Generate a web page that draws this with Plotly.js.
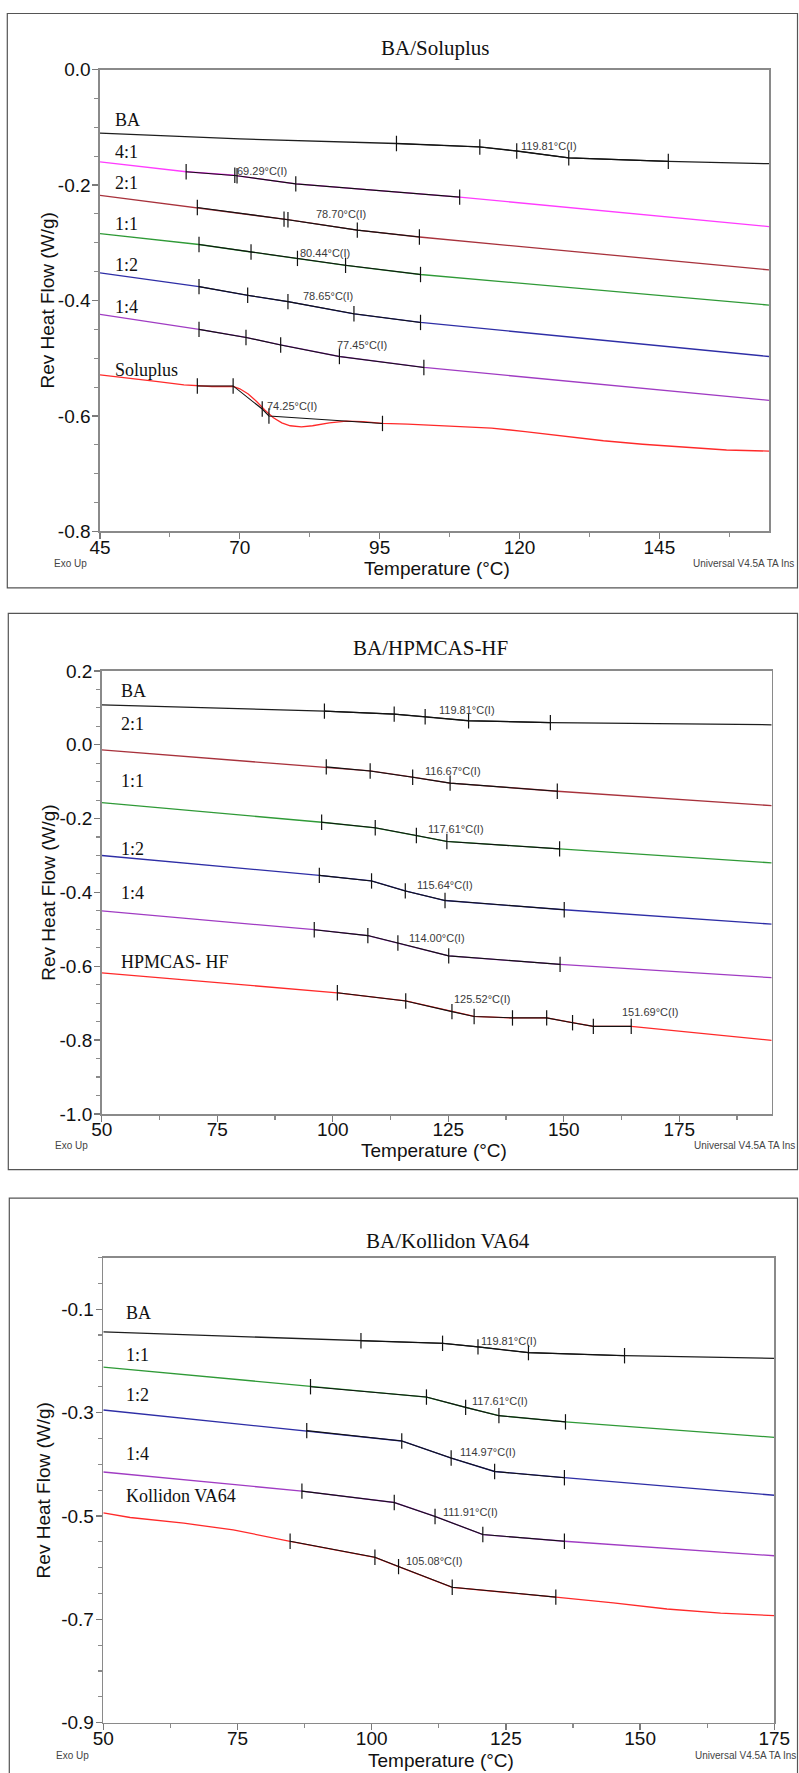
<!DOCTYPE html>
<html><head><meta charset="utf-8">
<script src="https://cdn.plot.ly/plotly-3.0.1.min.js"></script>
<style>html,body{margin:0;padding:0;background:#fff}#chart{width:799px;height:1773px}</style>
</head><body><div id="chart"></div>
<script>
// ================= DATA =================
// ---- Panel 1: BA/Soluplus ----
const p1Title = 'BA/Soluplus';
const p1XRange = [45, 164.6];
const p1YRange = [-0.8, 0.0];
const p1XTicks = [45, 70, 95, 120, 145];
const p1XTickText = ['45', '70', '95', '120', '145'];
const p1YTicks = [0.0, -0.2, -0.4, -0.6, -0.8];
const p1YTickText = ['0.0', '-0.2', '-0.4', '-0.6', '-0.8'];
const p1Names = ['BA', '4:1', '2:1', '1:1', '1:2', '1:4', 'Soluplus'];
const p1NameX = [47.3, 47.3, 47.3, 47.3, 47.3, 47.3, 47.3];
const p1NameY = [-0.088, -0.142, -0.197, -0.267, -0.339, -0.411, -0.520];

const p1_BA_T = [45, 70, 98, 112.9, 119.5, 128.8, 146.6, 164.6];
const p1_BA_V = [-0.110, -0.120, -0.128, -0.134, -0.141, -0.153, -0.159, -0.163];
const p1_BA_mT = [98, 112.9, 119.5, 128.8, 146.6];
const p1_BA_mV = [-0.128, -0.134, -0.141, -0.153, -0.159];

const p1_41_T = [45, 60.4, 69.1, 69.5, 80.0, 109.3, 164.6];
const p1_41_V = [-0.160, -0.177, -0.183, -0.184, -0.198, -0.221, -0.272];
const p1_41_mT = [60.4, 69.1, 69.5, 80.0, 109.3];
const p1_41_mV = [-0.177, -0.183, -0.184, -0.198, -0.221];

const p1_21_T = [45, 62.4, 77.9, 78.6, 91.0, 102.1, 164.6];
const p1_21_V = [-0.218, -0.239, -0.259, -0.260, -0.278, -0.290, -0.347];
const p1_21_mT = [62.4, 77.9, 78.6, 91.0, 102.1];
const p1_21_mV = [-0.239, -0.259, -0.260, -0.278, -0.290];

const p1_11_T = [45, 62.7, 72.0, 80.3, 88.9, 102.3, 164.6];
const p1_11_V = [-0.284, -0.303, -0.316, -0.327, -0.339, -0.355, -0.408];
const p1_11_mT = [62.7, 72.0, 80.3, 88.9, 102.3];
const p1_11_mV = [-0.303, -0.316, -0.327, -0.339, -0.355];

const p1_12_T = [45, 62.7, 71.4, 78.6, 90.4, 102.3, 164.6];
const p1_12_V = [-0.352, -0.376, -0.391, -0.402, -0.423, -0.438, -0.497];
const p1_12_mT = [62.7, 71.4, 78.6, 90.4, 102.3];
const p1_12_mV = [-0.376, -0.391, -0.402, -0.423, -0.438];

const p1_14_T = [45, 62.7, 71.1, 77.3, 87.8, 102.9, 164.6];
const p1_14_V = [-0.424, -0.450, -0.464, -0.477, -0.497, -0.516, -0.573];
const p1_14_mT = [62.7, 71.1, 77.3, 87.8, 102.9];
const p1_14_mV = [-0.450, -0.464, -0.477, -0.497, -0.516];

const p1_P_T = [45, 50, 55, 60, 62.4, 65, 68.8, 70, 71.5, 73, 74.5, 76, 77.5, 79, 81, 83, 86, 89, 92, 95.5, 100, 107.5, 115, 121, 128.3, 135, 142, 150.4, 157, 164.6];
const p1_P_V = [-0.529, -0.534, -0.540, -0.546, -0.548, -0.549, -0.549, -0.553, -0.562, -0.575, -0.590, -0.603, -0.612, -0.617, -0.619, -0.617, -0.612, -0.609, -0.610, -0.613, -0.614, -0.617, -0.621, -0.627, -0.635, -0.643, -0.649, -0.655, -0.659, -0.661];
const p1_P_mT = [62.4, 68.8, 74.0, 75.2, 95.5];
const p1_P_mV = [-0.548, -0.548, -0.588, -0.600, -0.613];

const p1Labels = ['69.29°C(I)', '78.70°C(I)', '80.44°C(I)', '78.65°C(I)', '77.45°C(I)', '74.25°C(I)', '119.81°C(I)'];
const p1LabelX = [69.2, 83.2, 80.4, 80.9, 87.1, 74.5, 119.9];
const p1LabelY = [-0.176, -0.251, -0.318, -0.392, -0.477, -0.582, -0.132];

// ---- Panel 2: BA/HPMCAS-HF ----
const p2Title = 'BA/HPMCAS-HF';
const p2XRange = [50, 195];
const p2YRange = [-1.0, 0.2];
const p2XTicks = [50, 75, 100, 125, 150, 175];
const p2XTickText = ['50', '75', '100', '125', '150', '175'];
const p2YTicks = [0.2, 0.0, -0.2, -0.4, -0.6, -0.8, -1.0];
const p2YTickText = ['0.2', '0.0', '-0.2', '-0.4', '-0.6', '-0.8', '-1.0'];
const p2Names = ['BA', '2:1', '1:1', '1:2', '1:4', 'HPMCAS- HF'];
const p2NameX = [53.7, 53.7, 53.7, 53.7, 53.7, 53.7];
const p2NameY = [0.146, 0.057, -0.098, -0.283, -0.402, -0.588];

const p2_BA_T = [50, 98.2, 113.3, 120, 129.4, 147.1, 195];
const p2_BA_V = [0.108, 0.091, 0.083, 0.076, 0.065, 0.060, 0.054];
const p2_BA_mT = [98.2, 113.3, 120, 129.4, 147.1];
const p2_BA_mV = [0.091, 0.083, 0.076, 0.065, 0.060];

const p2_21_T = [50, 98.6, 108.1, 117.3, 125.4, 148.6, 195];
const p2_21_V = [-0.014, -0.060, -0.071, -0.088, -0.104, -0.126, -0.165];
const p2_21_mT = [98.6, 108.1, 117.3, 125.4, 148.6];
const p2_21_mV = [-0.060, -0.071, -0.088, -0.104, -0.126];

const p2_11_T = [50, 97.6, 109.2, 118.1, 124.7, 149.1, 195];
const p2_11_V = [-0.157, -0.210, -0.225, -0.246, -0.262, -0.282, -0.320];
const p2_11_mT = [97.6, 109.2, 118.1, 124.7, 149.1];
const p2_11_mV = [-0.210, -0.225, -0.246, -0.262, -0.282];

const p2_12_T = [50, 97.1, 108.4, 115.7, 124.3, 150.1, 195];
const p2_12_V = [-0.300, -0.354, -0.369, -0.396, -0.422, -0.447, -0.486];
const p2_12_mT = [97.1, 108.4, 115.7, 124.3, 150.1];
const p2_12_mV = [-0.354, -0.369, -0.396, -0.422, -0.447];

const p2_14_T = [50, 96.0, 107.6, 114.1, 125.1, 149.2, 195];
const p2_14_V = [-0.450, -0.501, -0.517, -0.537, -0.572, -0.595, -0.631];
const p2_14_mT = [96.0, 107.6, 114.1, 125.1, 149.2];
const p2_14_mV = [-0.501, -0.517, -0.537, -0.572, -0.595];

const p2_P_T = [50, 101, 115.8, 125.8, 130.6, 138.9, 146.3, 151.9, 156.4, 164.6, 180, 195];
const p2_P_V = [-0.618, -0.672, -0.694, -0.723, -0.736, -0.740, -0.740, -0.753, -0.763, -0.763, -0.782, -0.801];
const p2_P_mT = [101, 115.8, 125.8, 130.6, 138.9, 146.3, 151.9, 156.4, 164.6];
const p2_P_mV = [-0.672, -0.694, -0.723, -0.736, -0.740, -0.740, -0.753, -0.763, -0.763];

const p2Labels = ['119.81°C(I)', '116.67°C(I)', '117.61°C(I)', '115.64°C(I)', '114.00°C(I)', '125.52°C(I)', '151.69°C(I)'];
const p2LabelX = [122.5, 119.5, 120.2, 117.8, 116.0, 125.8, 162.2];
const p2LabelY = [0.093, -0.072, -0.229, -0.379, -0.524, -0.690, -0.723];

// ---- Panel 3: BA/Kollidon VA64 ----
const p3Title = 'BA/Kollidon VA64';
const p3XRange = [50, 175];
const p3YRange = [-0.9, 0.0];
const p3XTicks = [50, 75, 100, 125, 150, 175];
const p3XTickText = ['50', '75', '100', '125', '150', '175'];
const p3YTicks = [-0.1, -0.3, -0.5, -0.7, -0.9];
const p3YTickText = ['-0.1', '-0.3', '-0.5', '-0.7', '-0.9'];
const p3Names = ['BA', '1:1', '1:2', '1:4', 'Kollidon VA64'];
const p3NameX = [53.9, 53.9, 53.9, 53.9, 53.9];
const p3NameY = [-0.107, -0.188, -0.266, -0.381, -0.461];

const p3_BA_T = [50, 98, 113.2, 119.8, 129.2, 147.1, 175];
const p3_BA_V = [-0.144, -0.161, -0.166, -0.173, -0.184, -0.190, -0.195];
const p3_BA_mT = [98, 113.2, 119.8, 129.2, 147.1];
const p3_BA_mV = [-0.161, -0.166, -0.173, -0.184, -0.190];

const p3_11_T = [50, 88.6, 110.2, 117.5, 123.7, 136.1, 175];
const p3_11_V = [-0.212, -0.250, -0.270, -0.290, -0.306, -0.318, -0.348];
const p3_11_mT = [88.6, 110.2, 117.5, 123.7, 136.1];
const p3_11_mV = [-0.250, -0.270, -0.290, -0.306, -0.318];

const p3_12_T = [50, 87.9, 105.6, 114.8, 122.9, 135.9, 175];
const p3_12_V = [-0.295, -0.335, -0.355, -0.388, -0.414, -0.426, -0.460];
const p3_12_mT = [87.9, 105.6, 114.8, 122.9, 135.9];
const p3_12_mV = [-0.335, -0.355, -0.388, -0.414, -0.426];

const p3_14_T = [50, 87.0, 104.2, 111.8, 120.7, 135.9, 175];
const p3_14_V = [-0.415, -0.452, -0.474, -0.501, -0.536, -0.549, -0.577];
const p3_14_mT = [87.0, 104.2, 111.8, 120.7, 135.9];
const p3_14_mV = [-0.452, -0.474, -0.501, -0.536, -0.549];

const p3_P_T = [50, 55, 65, 74.2, 84.8, 100.6, 105, 115, 134.3, 145, 155, 165, 175];
const p3_P_V = [-0.494, -0.503, -0.514, -0.527, -0.549, -0.580, -0.598, -0.638, -0.657, -0.668, -0.680, -0.688, -0.693];
const p3_P_mT = [84.8, 100.6, 105, 115, 134.3];
const p3_P_mV = [-0.549, -0.580, -0.598, -0.638, -0.657];

const p3Labels = ['119.81°C(I)', '117.61°C(I)', '114.97°C(I)', '111.91°C(I)', '105.08°C(I)'];
const p3LabelX = [120.0, 118.3, 116.1, 112.9, 106.0];
const p3LabelY = [-0.162, -0.278, -0.377, -0.492, -0.587];

const xTitleText = 'Temperature (°C)';
const yTitleText = 'Rev Heat Flow (W/g)';
const exoText = 'Exo Up';
const uniText = 'Universal V4.5A TA Ins';

// ================= STYLE / LAYOUT =================
const W = 799, H = 1773;
const px = x => x / W;
const py = y => 1 - y / H;
const SANS = 'Liberation Sans, Arial, sans-serif';
const SERIF = 'Liberation Serif, Times New Roman, serif';

const COL = {
  BA: '#1e1e1e', c41: '#ff3cff', c21: '#a8323c', c11: '#2f9a37',
  c12: '#2e2ea6', c14: '#a03cc3', poly: '#ff2a2a'
};

// minor tick positions built from an axis range and a step
function minorVals(range, start, step) {
  const out = [];
  const lo = Math.min(range[0], range[1]) - 1e-9, hi = Math.max(range[0], range[1]) + 1e-9;
  const k0 = Math.ceil((lo - start) / step), k1 = Math.floor((hi - start) / step);
  for (let k = k0; k <= k1; k++) out.push(Math.round((start + k * step) * 1e6) / 1e6);
  return out;
}

const panels = [
  {
    title: p1Title, xr: p1XRange, yr: p1YRange, xt: p1XTicks, xtt: p1XTickText, yt: p1YTicks, ytt: p1YTickText,
    xtick0: 45,
    names: p1Names, nx: p1NameX, ny: p1NameY, labels: p1Labels, lx: p1LabelX, ly: p1LabelY,
    series: [
      [p1_BA_T, p1_BA_V, p1_BA_mT, p1_BA_mV, COL.BA],
      [p1_41_T, p1_41_V, p1_41_mT, p1_41_mV, COL.c41],
      [p1_21_T, p1_21_V, p1_21_mT, p1_21_mV, COL.c21],
      [p1_11_T, p1_11_V, p1_11_mT, p1_11_mV, COL.c11],
      [p1_12_T, p1_12_V, p1_12_mT, p1_12_mV, COL.c12],
      [p1_14_T, p1_14_V, p1_14_mT, p1_14_mV, COL.c14],
      [p1_P_T, p1_P_V, p1_P_mT, p1_P_mV, COL.poly]
    ],
    box: {l: 100, r: 769, t: 69.6, b: 531.4},
    border: {l: 7.3, r: 797.5, t: 13.5, b: 587.9},
    titleX: 435, titleY: 48.2, xTitleX: 437, xTitleY: 568.3, yTitleX: 47,
    footY: 563.4, exoX: 52, uniX: 690.5
  },
  {
    title: p2Title, xr: p2XRange, yr: p2YRange, xt: p2XTicks, xtt: p2XTickText, yt: p2YTicks, ytt: p2YTickText,
    xtick0: 50,
    names: p2Names, nx: p2NameX, ny: p2NameY, labels: p2Labels, lx: p2LabelX, ly: p2LabelY,
    series: [
      [p2_BA_T, p2_BA_V, p2_BA_mT, p2_BA_mV, COL.BA],
      [p2_21_T, p2_21_V, p2_21_mT, p2_21_mV, COL.c21],
      [p2_11_T, p2_11_V, p2_11_mT, p2_11_mV, COL.c11],
      [p2_12_T, p2_12_V, p2_12_mT, p2_12_mV, COL.c12],
      [p2_14_T, p2_14_V, p2_14_mT, p2_14_mV, COL.c14],
      [p2_P_T, p2_P_V, p2_P_mT, p2_P_mV, COL.poly]
    ],
    box: {l: 101.7, r: 771.7, t: 670.9, b: 1113.9},
    border: {l: 8.3, r: 797.5, t: 613.3, b: 1169.6},
    titleX: 430, titleY: 648.3, xTitleX: 434, xTitleY: 1150.8, yTitleX: 48.3,
    footY: 1145.9, exoX: 53.3, uniX: 692
  },
  {
    title: p3Title, xr: p3XRange, yr: p3YRange, xt: p3XTicks, xtt: p3XTickText, yt: p3YTicks, ytt: p3YTickText,
    xtick0: 50,
    names: p3Names, nx: p3NameX, ny: p3NameY, labels: p3Labels, lx: p3LabelX, ly: p3LabelY,
    series: [
      [p3_BA_T, p3_BA_V, p3_BA_mT, p3_BA_mV, COL.BA],
      [p3_11_T, p3_11_V, p3_11_mT, p3_11_mV, COL.c11],
      [p3_12_T, p3_12_V, p3_12_mT, p3_12_mV, COL.c12],
      [p3_14_T, p3_14_V, p3_14_mT, p3_14_mV, COL.c14],
      [p3_P_T, p3_P_V, p3_P_mT, p3_P_mV, COL.poly]
    ],
    box: {l: 103.3, r: 774.3, t: 1257.5, b: 1722.7},
    border: {l: 9.3, r: 797.5, t: 1198.2, b: 1800},
    titleX: 447.7, titleY: 1240.5, xTitleX: 441, xTitleY: 1760.6, yTitleX: 43.3,
    footY: 1755.6, exoX: 54.3, uniX: 693
  }
];

const traces = [];
const annotations = [];
const shapes = [];
const layout = {
  width: W, height: H, autosize: false,
  margin: {l: 0, r: 0, t: 0, b: 0, pad: 0},
  paper_bgcolor: '#fff', plot_bgcolor: '#fff',
  showlegend: false,
  font: {family: SANS, color: '#111'}
};

panels.forEach((p, i) => {
  const n = i === 0 ? '' : String(i + 1);
  const xa = 'x' + n, ya = 'y' + n;
  const b = p.box;
  layout['xaxis' + n] = {
    domain: [px(b.l), px(b.r)], anchor: ya, range: p.xr,
    tickmode: 'array', tickvals: p.xt, ticktext: p.xtt,
    showline: true, mirror: true, linecolor: '#8a8a8a', linewidth: 1.6,
    ticks: 'outside', ticklen: 6, tickwidth: 1.2, tickcolor: '#7a7a7a',
    ticklabelstandoff: -8,
    minor: {ticks: 'outside', ticklen: 4, tickwidth: 1.1, tickcolor: '#8a8a8a', tickmode: 'array',
      tickvals: minorVals(p.xr, p.xtick0, 12.5), showgrid: false},
    showgrid: false, zeroline: false, fixedrange: true,
    tickfont: {family: SANS, size: 19, color: '#111'}
  };
  layout['yaxis' + n] = {
    domain: [py(b.b), py(b.t)], anchor: xa, range: p.yr,
    tickmode: 'array', tickvals: p.yt, ticktext: p.ytt,
    showline: true, mirror: true, linecolor: '#8a8a8a', linewidth: 1.6,
    ticks: 'outside', ticklen: 6, tickwidth: 1.2, tickcolor: '#7a7a7a',
    ticklabelstandoff: -2,
    minor: {ticks: 'outside', ticklen: 4, tickwidth: 1.1, tickcolor: '#8a8a8a', tickmode: 'array',
      tickvals: minorVals(p.yr, 0, 0.05), showgrid: false},
    showgrid: false, zeroline: false, fixedrange: true,
    tickfont: {family: SANS, size: 19, color: '#111'}
  };

  p.series.forEach(s => {
    traces.push({x: s[0], y: s[1], xaxis: xa, yaxis: ya, mode: 'lines',
      line: {color: s[4], width: 1.3}, hoverinfo: 'skip'});
  });
  p.series.forEach(s => {
    traces.push({x: s[2], y: s[3], xaxis: xa, yaxis: ya, mode: 'lines+markers',
      line: {color: '#111', width: 1.1},
      marker: {symbol: 'line-ns-open', size: 11, color: '#111', line: {color: '#111', width: 1.2}},
      hoverinfo: 'skip'});
  });

  p.names.forEach((t, k) => annotations.push({
    text: t, xref: xa, yref: ya, x: p.nx[k], y: p.ny[k], xanchor: 'left', yanchor: 'middle',
    showarrow: false, font: {family: SERIF, size: 18, color: '#111'}
  }));
  p.labels.forEach((t, k) => annotations.push({
    text: t, xref: xa, yref: ya, x: p.lx[k], y: p.ly[k], xanchor: 'left', yanchor: 'middle',
    showarrow: false, font: {family: SANS, size: 11, color: '#3a3a3a'}
  }));

  annotations.push({text: p.title, xref: 'paper', yref: 'paper', x: px(p.titleX), y: py(p.titleY),
    xanchor: 'center', yanchor: 'middle', showarrow: false, font: {family: SERIF, size: 21, color: '#111'}});
  annotations.push({text: xTitleText, xref: 'paper', yref: 'paper', x: px(p.xTitleX), y: py(p.xTitleY),
    xanchor: 'center', yanchor: 'middle', showarrow: false, font: {family: SANS, size: 19, color: '#111'}});
  annotations.push({text: yTitleText, xref: 'paper', yref: 'paper', x: px(p.yTitleX), y: py((b.t + b.b) / 2),
    xanchor: 'center', yanchor: 'middle', textangle: -90, showarrow: false, font: {family: SANS, size: 19, color: '#111'}});
  annotations.push({text: exoText, xref: 'paper', yref: 'paper', x: px(p.exoX), y: py(p.footY),
    xanchor: 'left', yanchor: 'middle', showarrow: false, font: {family: SANS, size: 10, color: '#444'}});
  annotations.push({text: uniText, xref: 'paper', yref: 'paper', x: px(p.uniX), y: py(p.footY),
    xanchor: 'left', yanchor: 'middle', showarrow: false, font: {family: SANS, size: 10, color: '#444'}});

  const br = p.border;
  shapes.push({type: 'rect', xref: 'paper', yref: 'paper', x0: px(br.l), x1: px(br.r), y0: py(br.b), y1: py(br.t),
    line: {color: '#555', width: 1.2}, fillcolor: 'rgba(0,0,0,0)', layer: 'below'});
});

layout.annotations = annotations;
layout.shapes = shapes;

Plotly.newPlot('chart', traces, layout, {staticPlot: true, displayModeBar: false});
</script>
</body></html>
